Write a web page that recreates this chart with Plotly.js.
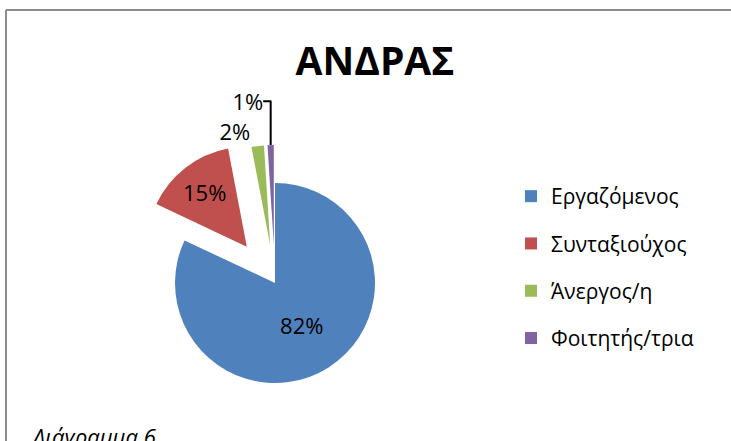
<!DOCTYPE html>
<html>
<head>
<meta charset="utf-8">
<script src="https://cdn.plot.ly/plotly-3.0.1.min.js"></script>
<style>html,body{margin:0;padding:0;background:#fff;}</style>
</head>
<body>
<div id="chart" style="width:731px;height:441px;"></div>
<script>
const categories = ['Εργαζόμενος', 'Συνταξιούχος', 'Άνεργος/η', 'Φοιτητής/τρια'];
const values = [82, 15, 2, 1];
const colors = ['#4F81BD', '#C0504D', '#9BBB59', '#8064A2'];
const pulls = [0, 0.46, 0.38, 0.38];
const chartTitle = 'ΑΝΔΡΑΣ';
const caption = 'Διάγραμμα 6';

const W = 731, H = 441;
const px = v => v / W;
const py = v => 1 - v / H;

const FONT = 'Open Sans, DejaVu Sans, sans-serif';

const pie = {
  type: 'pie',
  labels: categories,
  values: values,
  sort: false,
  direction: 'clockwise',
  rotation: 0,
  pull: pulls,
  marker: {colors: colors, line: {width: 0}},
  texttemplate: '%{percent:.0%}',
  textposition: ['inside', 'inside', 'outside', 'outside'],
  insidetextorientation: 'horizontal',
  textfont: {family: FONT, size: 22, color: '#000'},
  insidetextfont: {family: FONT, size: 22, color: '#000'},
  outsidetextfont: {family: FONT, size: 22, color: '#000'},
  showlegend: false,
  hoverinfo: 'label+percent',
  domain: {x: [px(129), px(421)], y: [py(429), py(137)]}
};

const legendTraces = categories.map((c, i) => ({
  type: 'scatter',
  mode: 'markers',
  x: [null], y: [null],
  name: c,
  legendgroup: 'g' + i,
  marker: {symbol: 'square', size: 12, color: colors[i]},
  hoverinfo: 'skip'
}));

const layout = {
  width: W, height: H,
  margin: {l: 0, r: 0, t: 0, b: 0},
  paper_bgcolor: '#fff',
  plot_bgcolor: 'rgba(0,0,0,0)',
  font: {family: FONT, color: '#000'},
  title: {
    text: '<b>' + chartTitle + '</b>',
    font: {family: FONT, size: 39, color: '#000'},
    x: px(375), xanchor: 'center',
    y: py(61), yanchor: 'middle',
    xref: 'paper', yref: 'paper'
  },
  xaxis: {visible: false, range: [0, 1], fixedrange: true},
  yaxis: {visible: false, range: [0, 1], fixedrange: true},
  showlegend: true,
  legend: {
    x: px(511), xanchor: 'left',
    y: py(176), yanchor: 'top',
    font: {family: FONT, size: 21, color: '#000'},
    tracegroupgap: 17,
    bgcolor: 'rgba(0,0,0,0)',
    borderwidth: 0
  },
  shapes: [
    {type: 'line', xref: 'paper', yref: 'paper', x0: px(6), x1: px(6), y0: -0.1, y1: py(10), line: {color: '#8c8c8c', width: 2}},
    {type: 'line', xref: 'paper', yref: 'paper', x0: px(6), x1: 1.1, y0: py(10), y1: py(10), line: {color: '#8c8c8c', width: 2}}
  ],
  annotations: [
    {xref: 'paper', yref: 'paper', x: px(30), xanchor: 'left', y: py(436), yanchor: 'middle',
     text: '<i>' + caption + '</i>', showarrow: false, font: {family: FONT, size: 22, color: '#000'}}
  ]
};

Plotly.newPlot('chart', [pie].concat(legendTraces), layout, {displayModeBar: false, staticPlot: true});
</script>
</body>
</html>
